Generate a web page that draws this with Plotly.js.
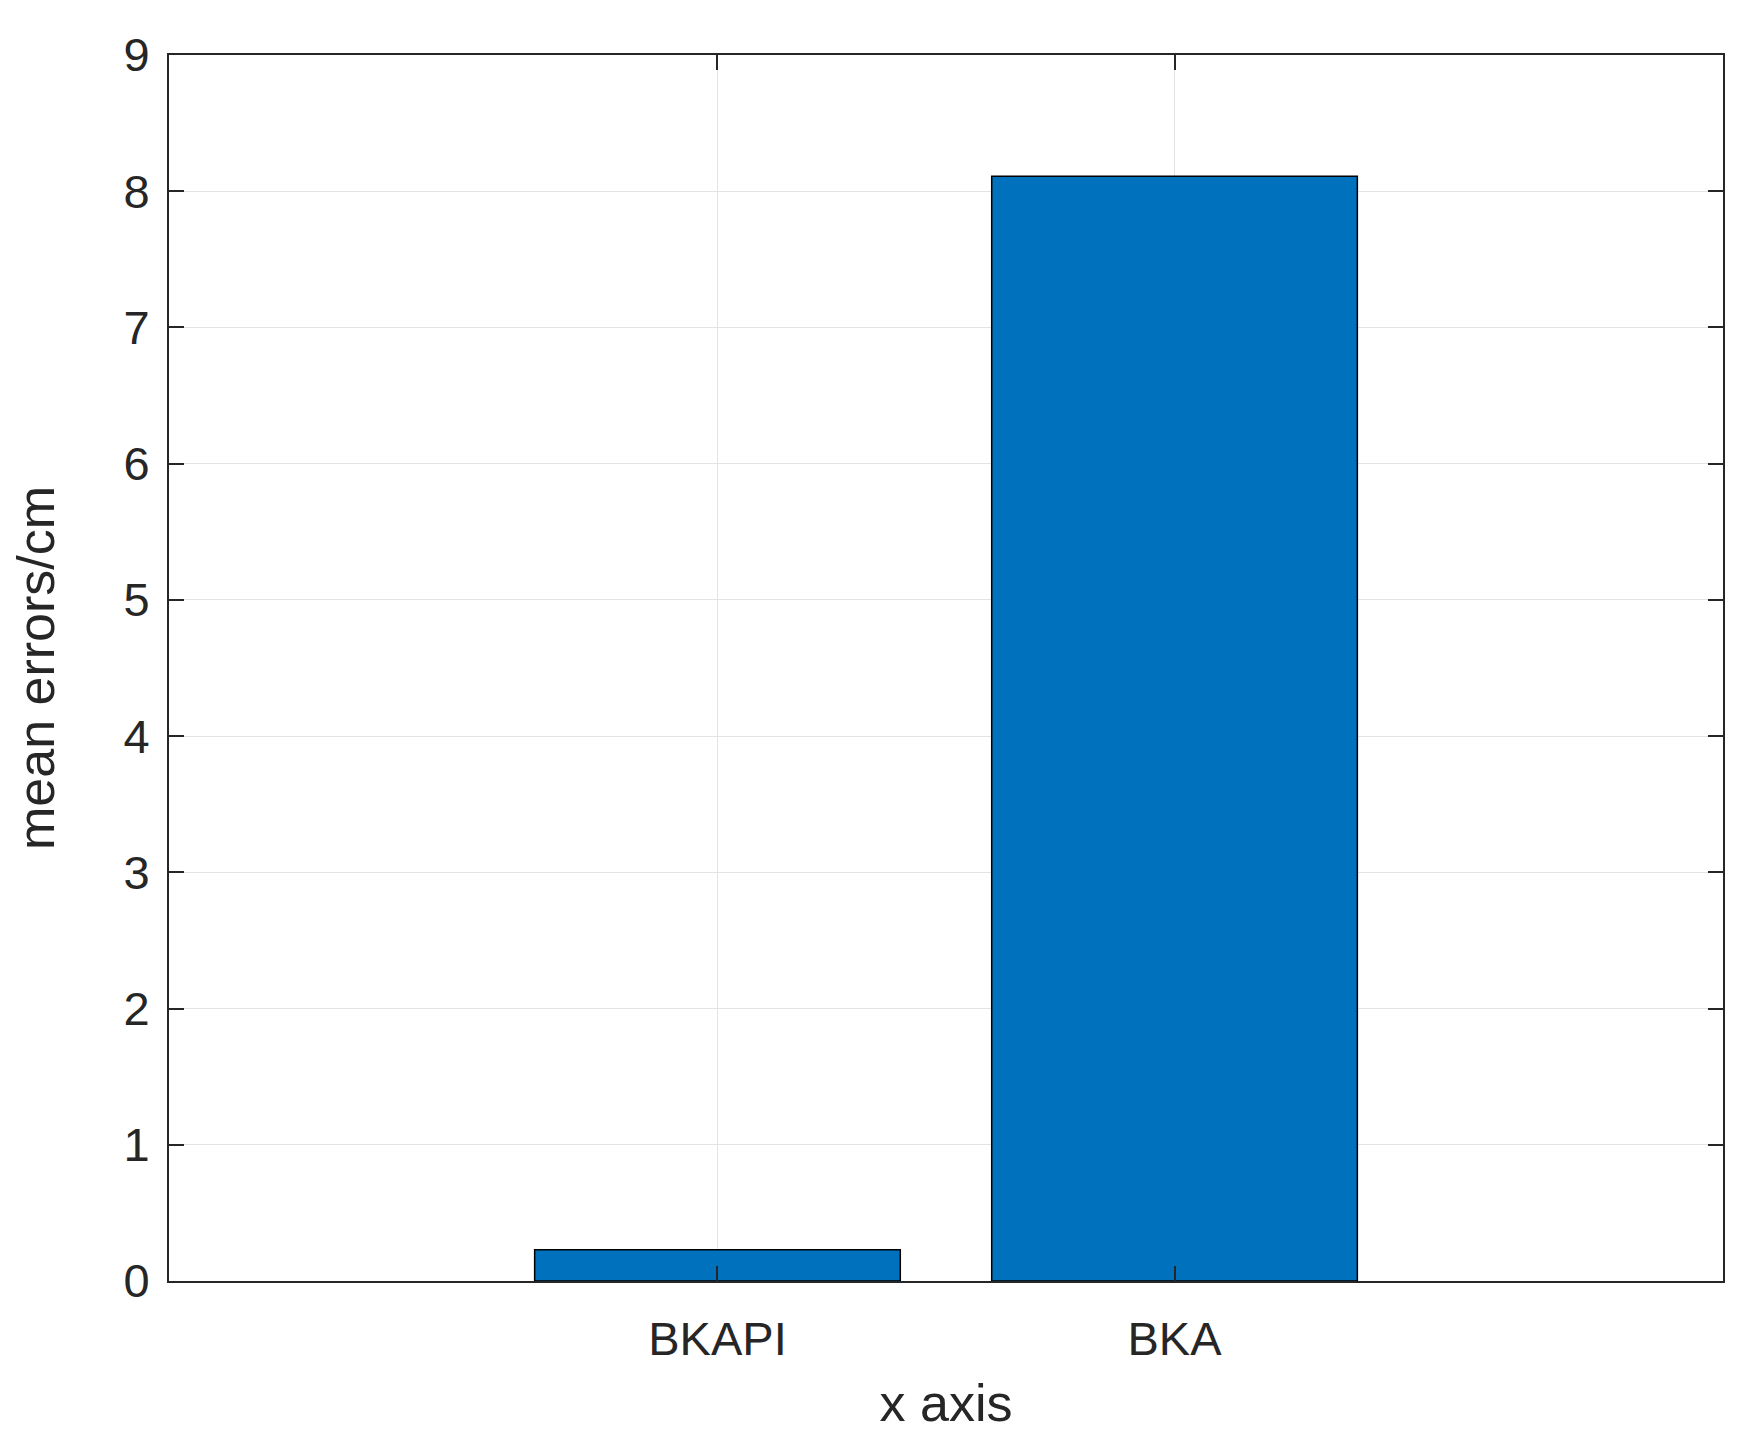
<!DOCTYPE html>
<html>
<head>
<meta charset="utf-8">
<script src="https://cdn.plot.ly/plotly-3.0.1.min.js"></script>
<style>
  html, body { margin: 0; padding: 0; background: #fff; }
  #chart { width: 1753px; height: 1441px; }
</style>
</head>
<body>
<div id="chart"></div>
<script>
// bar chart: mean errors per method
const methods = ["BKAPI", "BKA"];
const meanErrors = [0.23, 8.11];
const yTicks = [0, 1, 2, 3, 4, 5, 6, 7, 8, 9];

const axisColor = "#262626";
const gridColor = "#e3e3e3";
const fontFamily = "Liberation Sans, Arial, Helvetica, sans-serif";

Plotly.newPlot("chart", [{
    type: "bar",
    x: methods,
    y: meanErrors,
    width: 0.8,
    marker: {
        color: "#0072BD",
        line: { color: "#000000", width: 1.5 }
    },
    hoverinfo: "x+y"
}], {
    width: 1753,
    height: 1441,
    margin: { l: 169, r: 30, t: 55, b: 160 },
    paper_bgcolor: "#ffffff",
    plot_bgcolor: "#ffffff",
    showlegend: false,
    font: { family: fontFamily, color: axisColor, size: 47 },
    xaxis: {
        type: "category",
        range: [-1.2, 2.2],
        showline: true,
        linecolor: axisColor,
        linewidth: 2,
        mirror: "allticks",
        ticks: "inside",
        ticklen: 15,
        tickwidth: 1.5,
        tickcolor: axisColor,
        showgrid: true,
        gridcolor: gridColor,
        gridwidth: 1.2,
        zeroline: false,
        tickfont: { size: 47, color: axisColor },
        ticklabelstandoff: 16,
        title: { text: "x axis", font: { size: 52, color: axisColor }, standoff: 20 }
    },
    yaxis: {
        range: [0, 9],
        tickvals: yTicks,
        ticktext: yTicks.map(String),
        showline: true,
        linecolor: axisColor,
        linewidth: 2,
        mirror: "allticks",
        ticks: "inside",
        ticklen: 15,
        tickwidth: 1.5,
        tickcolor: axisColor,
        showgrid: true,
        gridcolor: gridColor,
        gridwidth: 1.2,
        zeroline: false,
        tickfont: { size: 47, color: axisColor },
        ticklabelstandoff: 8,
        title: { text: "mean errors/cm", font: { size: 52, color: axisColor }, standoff: 52 }
    }
}, { displayModeBar: false, responsive: false });
</script>
</body>
</html>
